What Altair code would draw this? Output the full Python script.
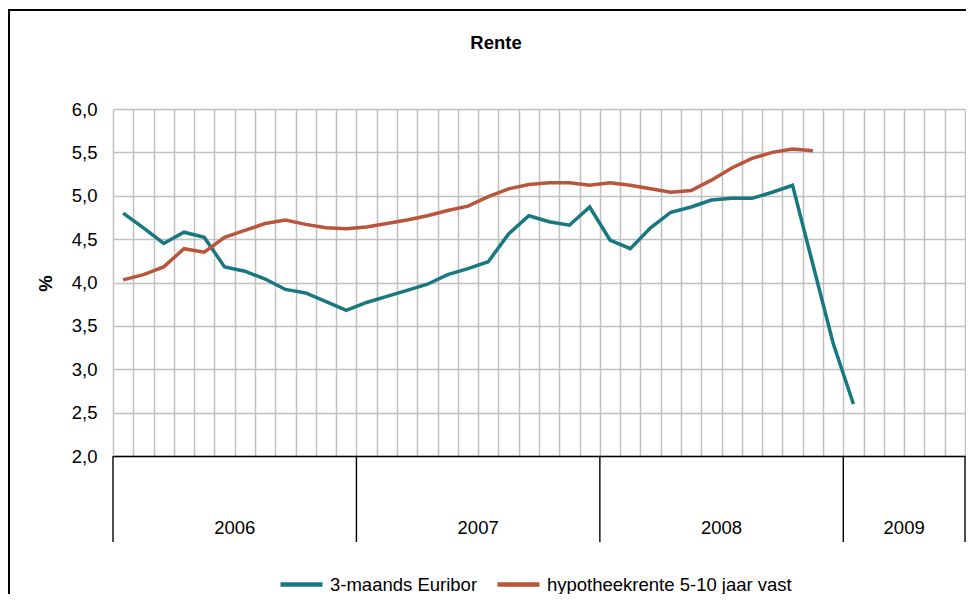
import altair as alt
import pandas as pd

# ---- data ----
series_names = ["3-maands Euribor", "hypotheekrente 5-10 jaar vast"]
euribor = [4.80, 4.63, 4.45, 4.58, 4.52, 4.18, 4.13, 4.04, 3.92, 3.88, 3.78, 3.68,
           3.77, 3.84, 3.91, 3.98, 4.09, 4.16, 4.24, 4.56, 4.77, 4.70, 4.66, 4.87,
           4.49, 4.39, 4.63, 4.81, 4.87, 4.95, 4.97, 4.97, 5.04, 5.12, 4.21, 3.30, 2.60]
hypotheek = [4.03, 4.09, 4.18, 4.39, 4.35, 4.52, 4.60, 4.68, 4.72, 4.67, 4.63, 4.62,
             4.64, 4.68, 4.72, 4.77, 4.83, 4.88, 4.99, 5.08, 5.13, 5.15, 5.15, 5.12,
             5.15, 5.12, 5.08, 5.04, 5.06, 5.18, 5.32, 5.43, 5.50, 5.54, 5.52]
years = ["2006", "2007", "2008", "2009"]
year_start = [0, 12, 24, 36]
year_months = [12, 12, 12, 6]
y_ticks = [2.0, 2.5, 3.0, 3.5, 4.0, 4.5, 5.0, 5.5, 6.0]

n_months = sum(year_months)
rows = []
for i, v in enumerate(euribor):
    rows.append({"m": i + 0.5, "v": v, "s": series_names[0]})
for i, v in enumerate(hypotheek):
    rows.append({"m": i + 0.5, "v": v, "s": series_names[1]})
df = pd.DataFrame(rows)

year_df = pd.DataFrame({
    "year": years,
    "m": [s + n / 2 for s, n in zip(year_start, year_months)],
})
bounds_df = pd.DataFrame({"m": year_start + [n_months]})

W, H = 852, 347
FONT = "Liberation Sans"
FS = 18.5
GRID = "#C0C0C0"

xscale = alt.Scale(domain=[0, n_months], nice=False, zero=False)
yscale = alt.Scale(domain=[2, 6], nice=False, zero=False)
xaxis = alt.Axis(values=list(range(n_months + 1)), labels=False, ticks=False,
                 domain=True, domainColor="black", domainWidth=1.4,
                 grid=True, gridColor=GRID, gridWidth=1.5, title=None)
xenc = alt.X("m:Q", scale=xscale, axis=xaxis, title=None)

lines = alt.Chart(df).mark_line(strokeWidth=3.5).encode(
    x=xenc,
    y=alt.Y("v:Q", scale=yscale,
            axis=alt.Axis(values=y_ticks,
                          labelExpr="replace(format(datum.value, '.1f'), '.', ',')",
                          labelFont=FONT, labelFontSize=FS, labelColor="black",
                          labelPadding=16, ticks=False, domain=False,
                          grid=True, gridColor=GRID, gridWidth=1.5,
                          title="%", titleFont=FONT, titleFontSize=FS,
                          titleFontWeight="bold", titleColor="black",
                          titleAngle=270, titleX=-68, titleY=174,
                          titleAlign="center", titleBaseline="middle")),
    color=alt.Color("s:N",
                    scale=alt.Scale(domain=series_names, range=["#177882", "#B9553A"]),
                    legend=alt.Legend(title=None, orient="none", direction="horizontal",
                                      legendX=165, legendY=452,
                                      symbolType="stroke", symbolSize=1764,
                                      symbolStrokeWidth=4.5, labelFont=FONT,
                                      labelFontSize=FS, labelColor="black",
                                      labelLimit=0, labelOffset=5, columnPadding=10)),
)

year_text = alt.Chart(year_df).mark_text(font=FONT, fontSize=FS, color="black",
                                         baseline="middle", align="center").encode(
    x=xenc,
    y=alt.value(419),
    text="year:N",
)

year_rules = alt.Chart(bounds_df).mark_rule(color="black", strokeWidth=1.4).encode(
    x=xenc,
    y=alt.value(H),
    y2=alt.value(433),
)

border_df = pd.DataFrame({"k": [0]})
border_left = alt.Chart(border_df).mark_rule(color="black", strokeWidth=2).encode(
    x=alt.value(-104), y=alt.value(-100), y2=alt.value(500))
border_top = alt.Chart(border_df).mark_rule(color="black", strokeWidth=2).encode(
    x=alt.value(-105), x2=alt.value(870), y=alt.value(-99))

title = alt.Chart(pd.DataFrame({"t": ["Rente"]})).mark_text(
    font=FONT, fontSize=FS, fontWeight="bold", color="black",
    align="center", baseline="middle").encode(
    x=alt.value(383), y=alt.value(-66), text="t:N")

chart = alt.layer(lines, year_rules, year_text, border_left, border_top, title).properties(
    width=W, height=H,
    autosize=alt.AutoSizeParams(type="none"),
    padding={"left": 105, "top": 101, "right": 1, "bottom": 138},
    background="white",
).configure_view(stroke=None)

chart.save("out.html", embed_options={"renderer": "svg", "actions": False})
